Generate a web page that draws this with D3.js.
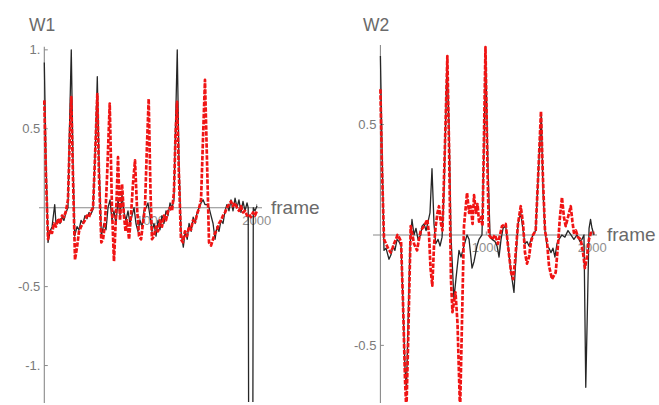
<!DOCTYPE html>
<html><head><meta charset="utf-8">
<script src="https://cdn.jsdelivr.net/npm/d3@7"></script>
<style>html,body{margin:0;padding:0;background:#fff;}svg{display:block;}</style>
</head><body>
<svg id="c" width="659" height="405"></svg>
<script>
// ---------- data (frame, value) ----------
const panelTitles = ["W1", "W2"];
const axisLabel = "frame";
const w1YTicks = [-1, -0.5, 0.5, 1];
const w1YTickLabels = ["-1.", "-0.5", "0.5", "1."];
const w2YTicks = [-0.5, 0.5];
const w2YTickLabels = ["-0.5", "0.5"];
const xTicks = [1000, 2000];
const xTickLabels = ["1000", "2000"];

const w1Black = [[0,0.92],[16,0.3],[35,-0.22],[54,-0.15],[73,-0.12],[98,0.02],[110,-0.1],[129,-0.08],[148,-0.1],[167,-0.06],[185,-0.08],[204,-0.03],[223,0.0],[237,0.5],[254,1.0],[270,0.3],[286,-0.18],[308,-0.12],[327,-0.14],[346,-0.08],[364,-0.1],[383,-0.05],[402,-0.07],[421,-0.03],[440,-0.04],[459,-0.01],[482,0.4],[499,0.83],[515,0.3],[537,-0.18],[562,-0.1],[581,-0.14],[600,0.0],[619,0.05],[637,-0.08],[656,-0.02],[675,-0.1],[694,0.05],[713,-0.05],[732,0.08],[750,-0.03],[769,-0.08],[788,-0.02],[807,-0.1],[826,-0.05],[845,0.0],[863,-0.1],[882,-0.15],[901,-0.08],[920,-0.12],[939,-0.02],[958,0.0],[976,0.03],[995,-0.05],[1014,-0.15],[1033,-0.1],[1052,-0.18],[1071,-0.08],[1089,-0.14],[1108,-0.05],[1127,-0.1],[1146,-0.02],[1165,-0.05],[1184,0.03],[1203,0.0],[1221,0.05],[1235,0.5],[1252,1.0],[1268,0.3],[1287,-0.15],[1309,-0.25],[1327,-0.15],[1346,-0.2],[1363,-0.1],[1383,-0.15],[1402,-0.06],[1421,-0.1],[1439,-0.03],[1458,0.0],[1476,0.03],[1495,0.05],[1513,0.02],[1532,0.02],[1551,0.0],[1570,-0.05],[1589,-0.1],[1608,-0.2],[1626,-0.12],[1645,-0.15],[1664,-0.08],[1683,-0.1],[1702,-0.02],[1720,0.02],[1739,-0.02],[1758,0.05],[1777,-0.02],[1796,0.06],[1815,0.0],[1833,0.05],[1852,-0.03],[1871,0.04],[1890,-0.02],[1909,0.03],[1920,0.0],[1924,-1.3],[1964,-1.3],[1968,0.0],[1984,-0.02],[2003,0.01]];

const w1Red = [[0,0.68],[16,0.2],[35,-0.2],[54,-0.14],[73,-0.16],[91,-0.1],[110,-0.12],[129,-0.07],[148,-0.1],[167,-0.05],[185,-0.06],[204,-0.02],[223,0.05],[240,0.45],[254,0.7],[270,0.2],[289,-0.33],[308,-0.25],[327,-0.15],[346,-0.12],[364,-0.1],[383,-0.08],[402,-0.05],[421,-0.06],[440,-0.02],[459,0.0],[482,0.4],[499,0.72],[515,0.2],[537,-0.22],[553,-0.2],[572,-0.1],[591,0.2],[616,0.66],[637,0.0],[656,-0.34],[675,-0.05],[694,0.32],[713,-0.08],[732,0.15],[750,-0.05],[765,-0.15],[779,-0.08],[798,-0.2],[816,-0.05],[835,0.15],[854,0.3],[873,0.0],[892,-0.18],[911,-0.2],[929,-0.1],[948,0.0],[967,0.4],[983,0.69],[1000,0.1],[1014,-0.2],[1033,-0.18],[1052,-0.12],[1071,-0.15],[1089,-0.08],[1108,-0.12],[1127,-0.05],[1146,-0.08],[1165,-0.02],[1184,0.0],[1203,-0.02],[1221,0.1],[1235,0.45],[1250,0.67],[1268,0.2],[1287,-0.2],[1305,-0.22],[1324,-0.15],[1343,-0.18],[1363,-0.12],[1381,-0.14],[1400,-0.08],[1421,-0.09],[1439,-0.04],[1458,0.0],[1476,0.05],[1495,0.45],[1513,0.81],[1532,0.3],[1551,-0.22],[1570,-0.24],[1589,-0.2],[1608,-0.16],[1626,-0.14],[1645,-0.1],[1664,-0.08],[1683,-0.05],[1702,-0.03],[1720,0.0],[1739,0.02],[1758,0.04],[1777,0.01],[1796,0.03],[1815,0.0],[1833,-0.02],[1852,0.01],[1871,-0.03],[1890,-0.02],[1909,-0.05],[1927,-0.04],[1946,-0.06],[1965,-0.03],[1984,-0.05],[2003,-0.02]];

const w2Black = [[0,0.81],[15,0.4],[34,-0.07],[53,-0.06],[81,-0.11],[100,-0.09],[119,-0.05],[137,-0.07],[157,-0.02],[175,-0.03],[195,-0.05],[213,-0.3],[232,-0.6],[246,-0.7],[261,-0.4],[280,-0.05],[298,0.07],[317,0.0],[336,0.03],[355,-0.02],[381,0.0],[393,0.04],[412,0.05],[431,0.02],[450,0.06],[468,0.1],[487,0.3],[506,0.05],[522,-0.04],[544,-0.02],[563,-0.05],[582,-0.01],[601,0.2],[629,0.78],[648,0.5],[666,0.0],[694,-0.29],[713,-0.2],[742,-0.07],[761,-0.1],[789,-0.05],[818,0.0],[837,-0.02],[865,-0.15],[884,-0.12],[912,-0.05],[931,-0.02],[959,0.0],[978,0.4],[994,0.8],[1016,0.3],[1035,0.0],[1054,-0.02],[1082,-0.03],[1101,-0.05],[1120,-0.1],[1139,-0.02],[1158,0.03],[1183,0.04],[1205,-0.05],[1228,-0.15],[1261,-0.26],[1280,-0.1],[1299,0.05],[1325,0.1],[1347,0.02],[1365,-0.04],[1384,-0.03],[1403,-0.05],[1422,-0.02],[1441,0.0],[1466,0.02],[1488,0.25],[1519,0.55],[1535,0.2],[1554,0.02],[1573,-0.05],[1592,-0.06],[1611,-0.08],[1629,-0.06],[1648,-0.1],[1667,-0.04],[1686,-0.02],[1714,0.0],[1742,-0.01],[1771,0.02],[1799,0.0],[1827,-0.02],[1856,0.0],[1884,-0.03],[1903,-0.02],[1922,0.0],[1939,-0.69],[1956,-0.3],[1970,0.03],[1984,0.07],[1998,0.03],[2017,0.0]];

const w2Red = [[0,0.66],[15,0.3],[34,-0.02],[53,-0.04],[72,-0.06],[97,-0.08],[114,-0.06],[128,-0.04],[147,-0.02],[161,0.0],[175,-0.01],[195,-0.03],[213,-0.3],[232,-0.65],[245,-0.8],[261,-0.5],[286,0.04],[303,0.0],[317,-0.04],[346,-0.07],[364,-0.02],[381,0.02],[412,0.04],[443,0.07],[459,0.0],[473,-0.15],[490,-0.23],[506,-0.05],[522,0.04],[539,0.1],[553,0.13],[572,0.05],[586,0.02],[609,0.4],[632,0.81],[648,0.4],[666,-0.2],[680,-0.35],[709,-0.26],[728,-0.4],[752,-0.8],[770,-0.4],[789,0.04],[818,0.19],[837,0.1],[853,0.13],[870,0.05],[884,0.18],[903,0.1],[917,0.14],[931,0.06],[950,0.08],[964,0.04],[978,0.45],[992,0.85],[1011,0.3],[1025,0.0],[1054,-0.02],[1082,0.0],[1110,-0.04],[1148,0.04],[1183,0.05],[1205,-0.05],[1234,-0.17],[1253,-0.2],[1271,-0.12],[1299,0.05],[1325,0.13],[1347,0.05],[1365,-0.08],[1384,-0.13],[1403,-0.1],[1422,-0.03],[1441,0.0],[1466,0.02],[1488,0.25],[1516,0.56],[1535,0.25],[1554,0.02],[1573,-0.03],[1592,-0.14],[1620,-0.2],[1655,-0.17],[1676,-0.05],[1695,0.08],[1714,0.17],[1733,0.08],[1749,0.04],[1771,0.08],[1797,0.13],[1813,0.06],[1827,0.01],[1846,0.02],[1865,-0.01],[1891,-0.02],[1913,-0.08],[1931,-0.15],[1950,-0.1],[1969,-0.02],[1988,0.01],[2021,0.01]];

// ---------- drawing ----------
const svg = d3.select("#c");
const panels = [
  {title: panelTitles[0], black: w1Black, red: w1Red, yTicks: w1YTicks, yLabels: w1YTickLabels,
   xDom: [-50, 2050], xRange: [39, 262], yDom: [-1.25, 1.02], yRange: [405, 46.7],
   titleX: 29, titleY: 31, frameX: 271, frameDy: 6},
  {title: panelTitles[1], black: w2Black, red: w2Red, yTicks: w2YTicks, yLabels: w2YTickLabels,
   xDom: [-70, 2045], xRange: [373, 597], yDom: [-0.77, 0.86], yRange: [405, 45],
   titleX: 363, titleY: 31, frameX: 607, frameDy: 6}
];
const axisCol = "#8a8a8a", textCol = "#6a6a6a";
const font = "'Liberation Sans', Arial, sans-serif";

panels.forEach((p, i) => {
  const x = d3.scaleLinear().domain(p.xDom).range(p.xRange);
  const y = d3.scaleLinear().domain(p.yDom).range(p.yRange);
  const g = svg.append("g");
  const x0 = x(0), y0 = y(0);

  g.append("text").attr("x", p.titleX).attr("y", p.titleY).text(p.title)
    .attr("font-family", font).attr("font-size", 17.5).attr("fill", textCol);

  g.append("line").attr("x1", x0).attr("x2", x0).attr("y1", p.yRange[1]).attr("y2", 403)
    .attr("stroke", axisCol).attr("stroke-width", 1.1);
  p.yTicks.forEach((t, k) => {
    g.append("line").attr("x1", x0).attr("x2", x0 + 3.5).attr("y1", y(t)).attr("y2", y(t))
      .attr("stroke", axisCol).attr("stroke-width", 1);
    g.append("text").attr("x", x0 - 4).attr("y", y(t)).attr("dy", "0.35em")
      .attr("text-anchor", "end").text(p.yLabels[k])
      .attr("font-family", font).attr("font-size", 13).attr("fill", "#7a7a7a");
  });

  g.append("line").attr("x1", p.xRange[0]).attr("x2", p.xRange[1]).attr("y1", y0).attr("y2", y0)
    .attr("stroke", axisCol).attr("stroke-width", 1.1);
  xTicks.forEach((t, k) => {
    g.append("line").attr("x1", x(t)).attr("x2", x(t)).attr("y1", y0).attr("y2", y0 - 3.5)
      .attr("stroke", axisCol).attr("stroke-width", 1);
    g.append("text").attr("x", x(t)).attr("y", y0 + 17)
      .attr("text-anchor", "middle").text(xTickLabels[k])
      .attr("font-family", font).attr("font-size", 13).attr("fill", "#8f8f8f");
  });
  g.append("text").attr("x", p.frameX).attr("y", y0 + p.frameDy).text(axisLabel)
    .attr("font-family", font).attr("font-size", 19).attr("fill", textCol);

  const cid = "clip" + i;
  svg.append("defs").append("clipPath").attr("id", cid).append("rect")
    .attr("x", p.xRange[0]).attr("y", p.yRange[1] - 2)
    .attr("width", p.xRange[1] - p.xRange[0]).attr("height", 402 - p.yRange[1] + 2);

  const line = d3.line().x(d => x(d[0])).y(d => y(d[1]));
  g.append("path").datum(p.black).attr("d", line).attr("clip-path", `url(#${cid})`)
    .attr("fill", "none").attr("stroke", "#262626").attr("stroke-width", 1.3)
    .attr("stroke-linejoin", "round");
  g.append("path").datum(p.red).attr("d", line).attr("clip-path", `url(#${cid})`)
    .attr("fill", "none").attr("stroke", "#f01414").attr("stroke-width", 2.7)
    .attr("stroke-dasharray", "4.5,1.5").attr("stroke-linejoin", "round");
});
</script>
</body></html>
